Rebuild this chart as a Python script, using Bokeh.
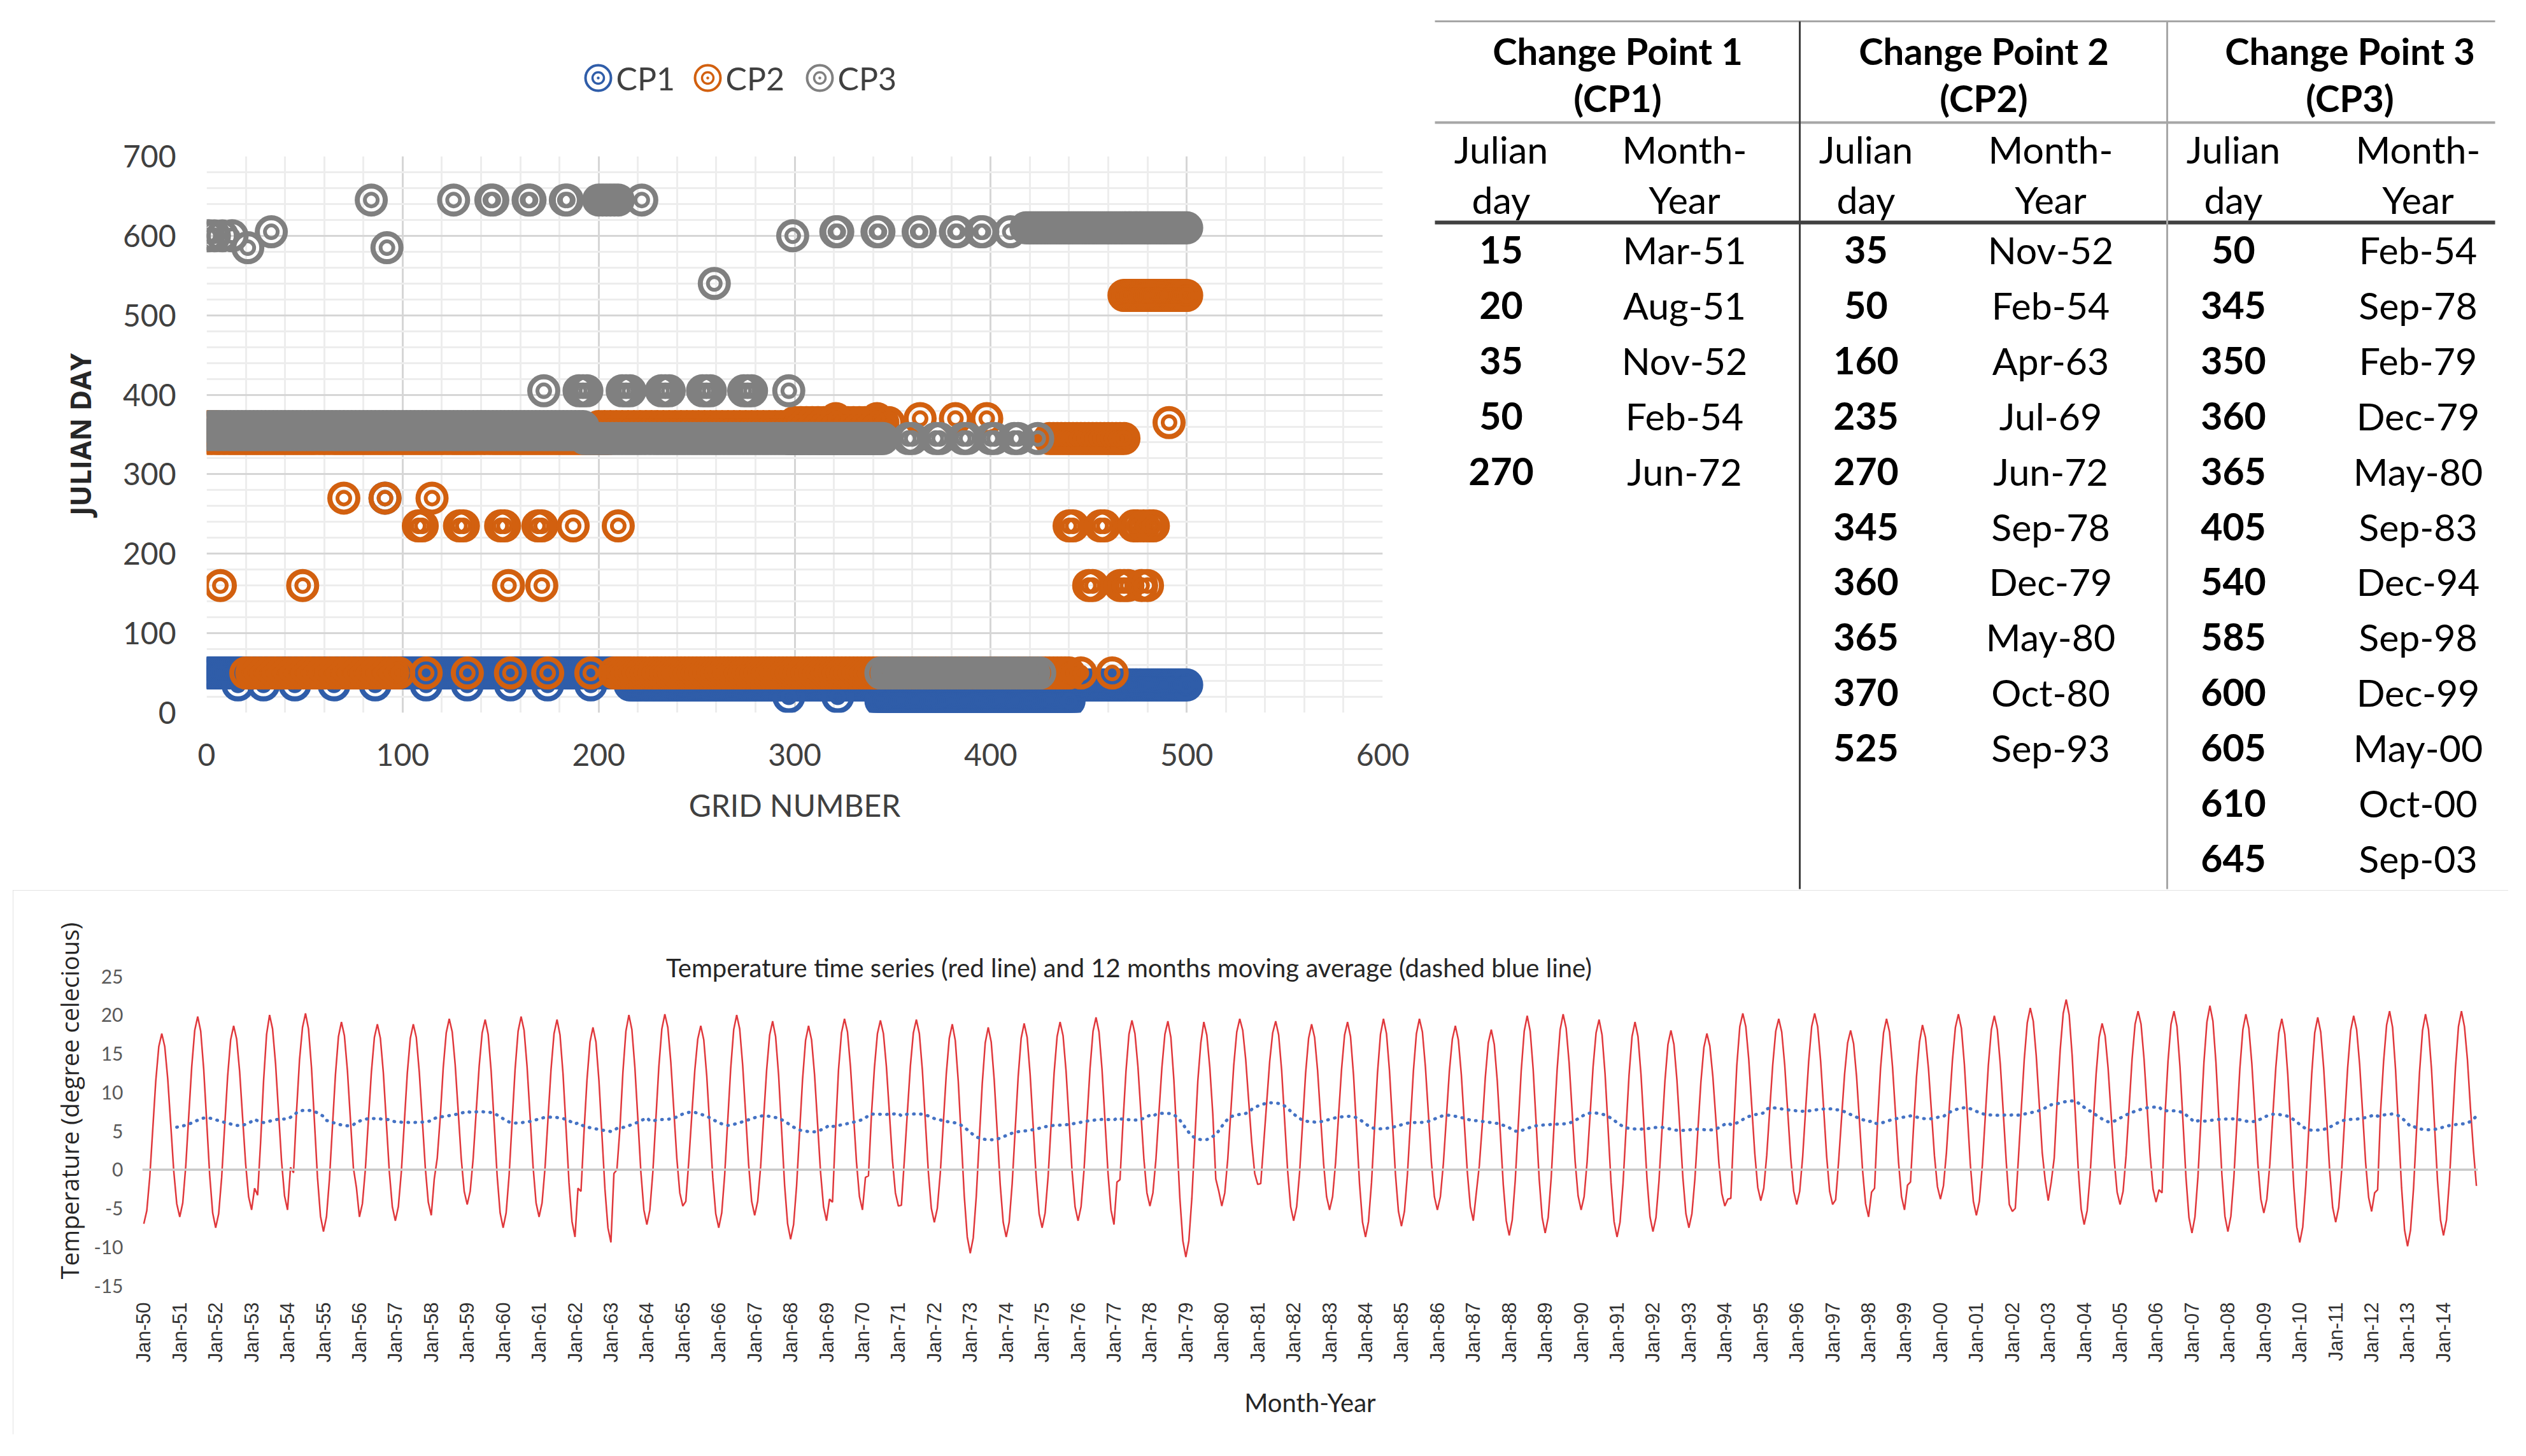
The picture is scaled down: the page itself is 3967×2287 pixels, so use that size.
import numpy as np
from bokeh.plotting import figure
from bokeh.models import Range1d, FixedTicker, Span, Label, ColumnDataSource
from bokeh.layouts import column, row
from bokeh.embed import file_html
from bokeh.resources import INLINE
from bokeh.core.properties import value

# ---------------- scatter data (grid number, julian day) ----------------
# runs: (first grid, last grid, step, julian day); marks: ([grids], julian day)
cp1_runs = [(1, 215, 1, 50), (216, 343, 1, 35), (344, 440, 1, 15), (441, 500, 1, 35)]
cp1_marks = [([16, 29, 45, 65, 86, 112, 133, 155, 174, 196], 35), ([91], 270), ([297, 322], 20)]

cp2_runs = [(1, 205, 2, 345), (20, 98, 3, 50), (208, 440, 2, 50), (200, 300, 3, 360),
            (300, 350, 3, 365), (430, 468, 2, 345), (468, 500, 1, 525)]
cp2_marks = [([1, 3, 5], 360), ([112, 133, 155, 174, 196, 446, 462], 50),
             ([7, 49, 154, 171, 450, 452, 466, 468, 470, 477, 480], 160),
             ([70, 91, 115], 270),
             ([108, 110, 129, 131, 150, 152, 169, 171, 187, 210, 440, 442, 456, 458, 473, 475, 478, 481, 483], 235),
             ([321, 342, 364, 382, 398], 370), ([491], 365)]

cp3_runs = [(1, 191, 2, 350), (2, 192, 2, 360), (193, 300, 2, 345), (297, 345, 1, 345),
            (344, 426, 3, 50), (418, 500, 1, 610)]
cp3_marks = [([1, 4, 8, 13, 299], 600), ([21, 92], 585),
             ([33, 321, 322, 342, 343, 363, 364, 382, 383, 395, 396, 410], 605),
             ([84, 126, 145, 146, 164, 165, 183, 184, 200, 202, 204, 206, 208, 210, 222], 645),
             ([259], 540),
             ([172, 190, 192, 194, 212, 214, 216, 232, 234, 236, 253, 255, 257, 274, 276, 278, 297], 405),
             ([358, 360, 372, 374, 386, 388, 400, 402, 412, 414, 424], 345)]

series_names = ["CP1", "CP2", "CP3"]
series_colors = ["#2F5DA9", "#D2600F", "#808080"]

# ---------------- table data ----------------
cp1_days = [15, 20, 35, 50, 270]
cp1_months = ["Mar-51", "Aug-51", "Nov-52", "Feb-54", "Jun-72"]
cp2_days = [35, 50, 160, 235, 270, 345, 360, 365, 370, 525]
cp2_months = ["Nov-52", "Feb-54", "Apr-63", "Jul-69", "Jun-72", "Sep-78", "Dec-79", "May-80", "Oct-80", "Sep-93"]
cp3_days = [50, 345, 350, 360, 365, 405, 540, 585, 600, 605, 610, 645]
cp3_months = ["Feb-54", "Sep-78", "Feb-79", "Dec-79", "May-80", "Sep-83", "Dec-94", "Sep-98", "Dec-99", "May-00", "Oct-00", "Sep-03"]
table_headers = ["Change Point 1", "Change Point 2", "Change Point 3"]
table_subheaders = ["(CP1)", "(CP2)", "(CP3)"]

# ---------------- monthly temperature, Jan-1950 .. Dec-2014 ----------------
temperature = [
    -7.0, -5.3, -0.9, 5.3, 11.5, 15.9, 17.6, 15.9, 11.7, 5.8, -0.2, -4.4,   # 1950
    -6.1, -4.3, 0.4, 6.9, 13.3, 18.0, 19.8, 17.9, 13.0, 6.2, -0.7, -5.6,    # 1951
    -7.5, -5.7, -1.0, 5.6, 12.1, 16.8, 18.6, 16.9, 12.7, 6.7, 0.8, -3.5,    # 1952
    -5.2, -2.4, -3.3, 3.5, 11.5, 17.5, 20.0, 18.2, 13.7, 7.4, 1.1, -3.4,    # 1953
    -5.2, 0.3, -0.4, 7.5, 14.2, 18.4, 20.2, 18.2, 13.2, 6.1, -1.0, -6.0,    # 1954
    -8.0, -6.1, -1.2, 5.6, 12.3, 17.2, 19.1, 17.3, 12.8, 6.5, 0.2, -2.3,    # 1955
    -6.1, -4.4, 0.1, 6.4, 12.6, 17.1, 18.8, 17.0, 12.5, 6.1, -0.3, -4.8,    # 1956
    -6.6, -4.8, -0.3, 6.1, 12.5, 17.0, 18.8, 17.1, 12.6, 6.5, 0.3, -4.2,    # 1957
    -5.9, -1.2, 1.5, 6.8, 13.2, 17.7, 19.5, 17.8, 13.5, 7.5, 1.5, -2.8,     # 1958
    -4.5, -2.8, 1.5, 7.5, 13.4, 17.7, 19.4, 17.5, 12.7, 6.0, -0.8, -5.6,    # 1959
    -7.5, -5.6, -0.7, 6.2, 13.0, 17.9, 19.8, 18.0, 13.3, 6.9, 0.4, -4.3,    # 1960
    -6.1, -4.3, 0.3, 6.7, 13.0, 17.6, 19.4, 17.4, 12.4, 5.4, -1.7, -6.7,    # 1961
    -8.7, -2.4, -2.8, 4.8, 11.6, 16.5, 18.4, 16.5, 11.5, 4.5, -2.5, -7.5,   # 1962
    -9.4, -0.5, 0.0, 5.3, 12.6, 17.9, 20.0, 18.1, 13.2, 6.5, -0.3, -5.2,    # 1963
    -7.1, -5.2, -0.3, 6.5, 13.3, 18.2, 20.1, 18.4, 13.9, 7.7, 1.5, -3.0,    # 1964
    -4.7, -4.1, 1.1, 7.0, 12.8, 16.9, 18.6, 16.8, 12.1, 5.6, -1.0, -5.7,    # 1965
    -7.5, -5.6, -0.6, 6.3, 13.1, 18.1, 20.0, 18.2, 13.5, 7.1, 0.6, -4.1,    # 1966
    -5.9, -4.1, 0.4, 6.7, 12.9, 17.4, 19.2, 17.2, 12.2, 5.1, -2.0, -7.0,    # 1967
    -9.0, -7.1, -2.1, 4.8, 11.7, 16.7, 18.6, 16.8, 12.3, 6.0, -0.3, -4.8,   # 1968
    -6.6, -3.8, -4.2, 5.0, 12.9, 17.7, 19.5, 17.8, 13.3, 7.2, 1.0, -3.5,    # 1969
    -5.2, -1.0, -0.8, 7.1, 13.2, 17.6, 19.3, 17.6, 13.3, 7.3, 1.3, -3.0,    # 1970
    -4.7, -4.6, 1.3, 7.4, 13.4, 17.7, 19.4, 17.6, 12.9, 6.3, -0.3, -5.0,    # 1971
    -6.8, -5.0, -0.4, 6.0, 12.4, 17.0, 18.8, 16.7, 11.4, 4.0, -3.4, -8.7,   # 1972
    -10.8, -8.8, -3.5, 3.8, 11.1, 16.4, 18.4, 16.5, 11.6, 4.9, -1.9, -6.8,  # 1973
    -8.7, -6.8, -1.8, 5.1, 12.0, 17.0, 18.9, 17.1, 12.3, 5.7, -0.9, -5.7,   # 1974
    -7.5, -5.6, -0.9, 5.8, 12.5, 17.2, 19.1, 17.3, 12.7, 6.3, -0.2, -4.8,   # 1975
    -6.6, -4.8, 0.0, 6.6, 13.1, 17.9, 19.7, 17.8, 13.0, 6.3, -0.4, -5.2,    # 1976
    -7.1, -1.6, -1.3, 6.1, 12.7, 17.5, 19.3, 17.6, 13.3, 7.3, 1.3, -3.0,    # 1977
    -4.7, -3.0, 1.3, 7.3, 13.2, 17.5, 19.2, 17.1, 11.6, 4.0, -3.7, -9.2,    # 1978
    -11.3, -9.2, -3.7, 3.9, 11.5, 16.4, 19.1, 17.4, 13.2, 7.2, -1.2, -2.8,  # 1979
    -4.7, -3.0, 1.4, 7.4, 13.5, 17.8, 19.5, 18.0, 14.2, 8.8, 3.5, -0.5,     # 1980
    -1.9, -1.8, 3.4, 8.7, 14.0, 17.7, 19.2, 17.4, 12.8, 6.3, -0.2, -4.8,    # 1981
    -6.6, -4.8, -0.3, 6.1, 12.5, 17.0, 18.8, 17.1, 12.8, 6.8, 0.8, -3.5,    # 1982
    -5.2, -3.5, 0.9, 7.0, 13.0, 17.4, 19.1, 17.2, 12.2, 5.2, -1.8, -6.8,    # 1983
    -8.7, -6.7, -1.7, 5.4, 12.5, 17.5, 19.5, 17.6, 12.8, 6.1, -0.6, -5.4,   # 1984
    -7.3, -5.4, -0.6, 6.1, 12.8, 17.6, 19.5, 17.8, 13.3, 7.2, 1.0, -3.5,    # 1985
    -5.2, -3.5, 0.8, 6.7, 12.7, 16.9, 18.6, 16.8, 12.3, 6.0, -0.3, -4.8,    # 1986
    -6.6, -3.0, 0.5, 5.8, 11.9, 16.4, 18.1, 16.2, 11.5, 4.8, -1.9, -6.6,    # 1987
    -8.5, -6.5, -1.4, 5.7, 12.8, 17.9, 19.9, 17.9, 12.9, 5.9, -1.2, -6.2,   # 1988
    -8.2, -6.2, -1.1, 6.0, 13.0, 18.1, 20.1, 18.3, 13.8, 7.5, 1.1, -3.4,    # 1989
    -5.2, -3.5, 1.0, 7.1, 13.3, 17.7, 19.4, 17.4, 12.4, 5.4, -1.7, -6.7,    # 1990
    -8.7, -6.8, -1.8, 5.2, 12.2, 17.2, 19.1, 17.2, 12.3, 5.6, -1.2, -6.1,   # 1991
    -8.0, -6.2, -1.5, 5.0, 11.5, 16.2, 18.0, 16.2, 11.6, 5.3, -1.1, -5.7,   # 1992
    -7.5, -5.7, -1.2, 5.1, 11.3, 15.8, 17.6, 16.0, 12.0, 6.5, 0.9, -3.1,    # 1993
    -4.7, -3.8, -3.7, 5.5, 13.5, 18.5, 20.2, 18.5, 14.2, 8.1, 2.1, -2.3,    # 1994
    -4.0, -2.4, 1.9, 7.8, 13.6, 17.9, 19.5, 17.8, 13.5, 7.5, 1.5, -2.8,     # 1995
    -4.5, -2.8, 1.7, 7.9, 14.0, 18.5, 20.2, 18.5, 14.0, 7.9, 1.7, -2.8,     # 1996
    -4.5, -3.9, 1.1, 6.8, 12.4, 16.4, 18.0, 16.3, 12.0, 6.0, -0.1, -4.4,    # 1997
    -6.1, -2.9, -2.4, 6.2, 13.1, 17.7, 19.5, 17.8, 13.3, 7.2, 1.0, -3.5,    # 1998
    -5.2, -2.0, -1.6, 5.4, 12.0, 16.5, 18.7, 17.1, 13.1, 7.5, 1.8, -2.2,    # 1999
    -3.8, -2.1, 2.2, 8.2, 14.1, 18.4, 20.1, 18.3, 13.6, 7.1, 0.6, -4.1,     # 2000
    -5.9, -4.1, 0.6, 7.0, 13.5, 18.1, 19.9, 18.1, 13.6, 7.3, 0.9, -4.5,     # 2001
    -5.4, -5.0, 1.2, 7.8, 14.3, 19.0, 20.9, 19.2, 14.7, 8.5, 2.2, -1.4,     # 2002
    -4.0, -1.6, 1.5, 9.0, 15.5, 20.2, 22.0, 20.0, 14.7, 7.5, 0.2, -5.1,     # 2003
    -7.1, -5.3, -0.6, 5.9, 12.4, 17.1, 18.9, 17.3, 13.1, 7.2, 1.4, -2.9,    # 2004
    -4.5, -2.8, 1.8, 8.0, 14.3, 18.8, 20.5, 18.8, 14.3, 8.2, 2.0, -2.5,     # 2005
    -4.2, -2.6, -3.0, 7.0, 14.0, 18.8, 20.5, 18.5, 13.3, 6.2, -1.0, -6.2,   # 2006
    -8.2, -6.1, -0.9, 6.5, 13.9, 19.1, 21.2, 19.2, 13.9, 6.6, -0.7, -6.0,   # 2007
    -8.0, -6.0, -1.0, 6.1, 13.1, 18.1, 20.1, 18.3, 13.7, 7.3, 0.8, -3.8,    # 2008
    -5.6, -3.8, 0.7, 7.0, 13.2, 17.7, 19.5, 17.5, 12.3, 5.1, -2.2, -7.4,    # 2009
    -9.4, -7.4, -2.1, 5.2, 12.4, 17.7, 19.7, 17.8, 13.1, 6.5, -0.2, -4.9,   # 2010
    -6.8, -4.9, -0.1, 6.6, 13.2, 18.0, 19.9, 18.1, 13.6, 7.3, 0.9, -3.6,    # 2011
    -5.4, -3.0, -2.6, 7.6, 14.0, 18.7, 20.5, 18.4, 12.9, 5.3, -2.3, -7.8,   # 2012
    -9.9, -7.8, -2.4, 5.1, 12.6, 18.0, 20.1, 18.1, 13.0, 5.8, -1.4, -6.5,   # 2013
    -8.5, -6.5, -1.3, 6.0, 13.2, 18.5, 20.5, 18.5, 14.2, 8.0, 2.5, -2.1,    # 2014
]
year_labels = ["Jan-%02d" % (y % 100) for y in range(1950, 2015)]
temp_ticks = [-15, -10, -5, 0, 5, 10, 15, 20, 25]

# ============================ scatter ============================
def expand(runs, marks):
    xs, ys = [], []
    for a, b, step, v in runs:
        for g in range(a, b + 1, step):
            xs.append(g)
            ys.append(v)
    for grids, v in marks:
        for g in grids:
            xs.append(g)
            ys.append(v)
    return xs, ys

LATO = value("Lato")

# legend strip above the scatter; its data space is the page's pixel space
p_leg = figure(width=2247, height=205, x_range=Range1d(332, 2179), y_range=Range1d(213, 8),
               output_backend="svg", toolbar_location=None,
               x_axis_location=None, y_axis_location=None,
               min_border_left=324, min_border_right=76, min_border_top=0, min_border_bottom=0)
p_leg.outline_line_color = None
p_leg.grid.visible = False
legend_icon_x = [947, 1119, 1295]
legend_y = 130

p1 = figure(width=2247, height=1193, x_range=Range1d(0, 600), y_range=Range1d(0, 700),
            output_backend="svg", toolbar_location=None,
            min_border_left=324, min_border_right=76, min_border_top=40, min_border_bottom=279)
p1.outline_line_color = None
p1.xaxis.ticker = FixedTicker(ticks=list(range(0, 601, 100)), minor_ticks=list(range(0, 601, 20)))
p1.yaxis.ticker = FixedTicker(ticks=list(range(0, 701, 100)), minor_ticks=list(range(0, 701, 20)))
for g in (p1.xgrid[0], p1.ygrid[0]):
    g.grid_line_color = "#D6D6D6"
    g.grid_line_width = 3
    g.minor_grid_line_color = "#EDEDED"
    g.minor_grid_line_width = 3
for ax in (p1.xaxis[0], p1.yaxis[0]):
    ax.axis_line_color = None
    ax.major_tick_line_color = None
    ax.minor_tick_line_color = None
    ax.major_label_text_font = "Lato"
    ax.major_label_text_font_size = "48px"
    ax.major_label_text_color = "#404040"
    ax.axis_label_text_font_style = "normal"
    ax.axis_label_text_color = "#404040"
p1.xaxis.major_label_standoff = 42
p1.yaxis.major_label_standoff = 42
p1.xaxis.axis_label = "GRID NUMBER"
p1.xaxis.axis_label_text_font = "Lato"
p1.xaxis.axis_label_text_font_size = "48px"
p1.xaxis.axis_label_standoff = 30
p1.yaxis.axis_label = "JULIAN DAY"
p1.yaxis.axis_label_text_font = "Open Sans"
p1.yaxis.axis_label_text_font_size = "44px"
p1.yaxis.axis_label_text_font_style = "bold"
p1.yaxis.axis_label_text_color = "#262626"
p1.yaxis.axis_label_standoff = 34

for name, color, runs, marks, lx in zip(series_names, series_colors,
                                        [cp1_runs, cp2_runs, cp3_runs], [cp1_marks, cp2_marks, cp3_marks],
                                        legend_icon_x):
    xs, ys = expand(runs, marks)
    src = ColumnDataSource(dict(x=xs, y=ys))
    p1.scatter("x", "y", source=src, marker="circle", size=44, line_width=8,
               line_color=color, fill_color=None)
    p1.scatter("x", "y", source=src, marker="circle", size=20, line_width=6,
               line_color=color, fill_color=None)
    # legend entry: double ring swatch + label
    p_leg.scatter(x=[lx], y=[legend_y], marker="circle", size=40, line_width=4,
                  line_color=color, fill_color=None)
    p_leg.scatter(x=[lx], y=[legend_y], marker="circle_dot", size=18, line_width=3.5,
                  line_color=color, fill_color=None)
    p_leg.text(x=[lx + 28], y=[legend_y], text=[name], text_font=LATO, text_font_size="50px",
               text_align="left", text_baseline="middle", text_color="#404040")

# ============================ table ============================
p2 = figure(width=1704, height=1398, x_range=Range1d(2255, 3959), y_range=Range1d(1406, 8),
            output_backend="svg", toolbar_location=None,
            x_axis_location=None, y_axis_location=None,
            min_border_left=0, min_border_right=0, min_border_top=0, min_border_bottom=0)
p2.outline_line_color = None
p2.grid.visible = False

head_x = [2548, 3123, 3698]
day_x = [2365, 2938, 3515]
month_x = [2653, 3228, 3805]
row_y0, row_dy = 400, 86.9

# rules
p2.segment(x0=[2261], y0=[41], x1=[3926], y1=[41], line_color="#A6A6A6", line_width=3)
p2.segment(x0=[2261], y0=[200], x1=[3926], y1=[200], line_color="#A6A6A6", line_width=4)
p2.segment(x0=[2261], y0=[357], x1=[3926], y1=[357], line_color="#404040", line_width=6)
p2.segment(x0=[2834], y0=[41], x1=[2834], y1=[1404], line_color="#404040", line_width=3)
p2.segment(x0=[3411], y0=[41], x1=[3411], y1=[1404], line_color="#A6A6A6", line_width=3)

p2.text(x=head_x, y=[87] * 3, text=table_headers, text_font=LATO, text_font_size="58px",
        text_font_style="bold", text_align="center", text_baseline="middle", text_color="#000000")
p2.text(x=head_x, y=[161] * 3, text=table_subheaders, text_font=LATO, text_font_size="58px",
        text_font_style="bold", text_align="center", text_baseline="middle", text_color="#000000")
p2.text(x=day_x, y=[242] * 3, text=["Julian"] * 3, text_font=LATO, text_font_size="59px",
        text_align="center", text_baseline="middle", text_color="#000000")
p2.text(x=day_x, y=[321] * 3, text=["day"] * 3, text_font=LATO, text_font_size="59px",
        text_align="center", text_baseline="middle", text_color="#000000")
p2.text(x=month_x, y=[242] * 3, text=["Month-"] * 3, text_font=LATO, text_font_size="59px",
        text_align="center", text_baseline="middle", text_color="#000000")
p2.text(x=month_x, y=[321] * 3, text=["Year"] * 3, text_font=LATO, text_font_size="59px",
        text_align="center", text_baseline="middle", text_color="#000000")

for i, (days, months) in enumerate([(cp1_days, cp1_months), (cp2_days, cp2_months), (cp3_days, cp3_months)]):
    ys = [row_y0 + k * row_dy for k in range(len(days))]
    p2.text(x=[day_x[i]] * len(days), y=ys, text=[str(d) for d in days], text_font=LATO,
            text_font_size="59px", text_font_style="bold", text_align="center",
            text_baseline="middle", text_color="#000000")
    p2.text(x=[month_x[i]] * len(months), y=ys, text=months, text_font=LATO,
            text_font_size="59px", text_align="center", text_baseline="middle", text_color="#000000")

# ============================ temperature time series ============================
months_idx = list(range(len(temperature)))
temp_arr = np.array(temperature)
ma = np.convolve(temp_arr, np.ones(12) / 12.0, mode="valid")  # trailing 12-month mean
ma_x = months_idx[11:]

p3 = figure(width=3919, height=855, x_range=Range1d(-0.5, 779.5), y_range=Range1d(-15, 32.82),
            output_backend="svg", toolbar_location=None, margin=(0, 0, 0, 20),
            min_border_left=203, min_border_right=48, min_border_top=40, min_border_bottom=234)
p3.styles = {"outline": "3px solid #D9D9D9", "outline-offset": "-3px"}
p3.outline_line_color = None
p3.grid.visible = False

p3.add_layout(Span(location=0, dimension="width", line_color="#C8C8C8", line_width=3.5))
p3.line(months_idx, temperature, line_color="#E0383C", line_width=2.5)
p3.line(ma_x, ma.tolist(), line_color="#4472C4", line_width=5, line_dash="1 10", line_cap="round")

p3.xaxis.ticker = FixedTicker(ticks=list(range(0, 780, 12)))
p3.xaxis.major_label_overrides = {12 * i: lab for i, lab in enumerate(year_labels)}
p3.xaxis.major_label_orientation = np.pi / 2
p3.xaxis.major_label_text_font = "Liberation Sans"
p3.xaxis.major_label_text_font_size = "31px"
p3.xaxis.major_label_text_color = "#333333"
p3.xaxis.major_label_standoff = 20
p3.xaxis.axis_label = "Month-Year"
p3.xaxis.axis_label_text_font = "Lato"
p3.xaxis.axis_label_text_font_size = "40px"
p3.xaxis.axis_label_text_font_style = "normal"
p3.xaxis.axis_label_text_color = "#262626"
p3.xaxis.axis_label_standoff = 36

p3.yaxis.ticker = FixedTicker(ticks=temp_ticks)
p3.yaxis.major_label_overrides = {t: str(t) for t in temp_ticks}
p3.yaxis.major_label_text_font = "Lato"
p3.yaxis.major_label_text_font_size = "30px"
p3.yaxis.major_label_text_color = "#595959"
p3.yaxis.major_label_standoff = 24
p3.yaxis.axis_label = "Temperature (degree celecious)"
p3.yaxis.axis_label_text_font = "Open Sans"
p3.yaxis.axis_label_text_font_size = "38px"
p3.yaxis.axis_label_text_font_style = "normal"
p3.yaxis.axis_label_text_color = "#262626"
p3.yaxis.axis_label_standoff = 10
for ax in (p3.xaxis[0], p3.yaxis[0]):
    ax.axis_line_color = None
    ax.major_tick_line_color = None
    ax.minor_tick_line_color = None

p3.add_layout(Label(x=329, y=26.1, text="Temperature time series (red line) and 12 months moving average (dashed blue line)",
                    text_align="center", text_baseline="middle", text_font="Lato",
                    text_font_size="40px", text_color="#262626"))

layout = column(row(column(p_leg, p1), column(p2)), p3)
open("out.html", "w").write(file_html(layout, INLINE))
